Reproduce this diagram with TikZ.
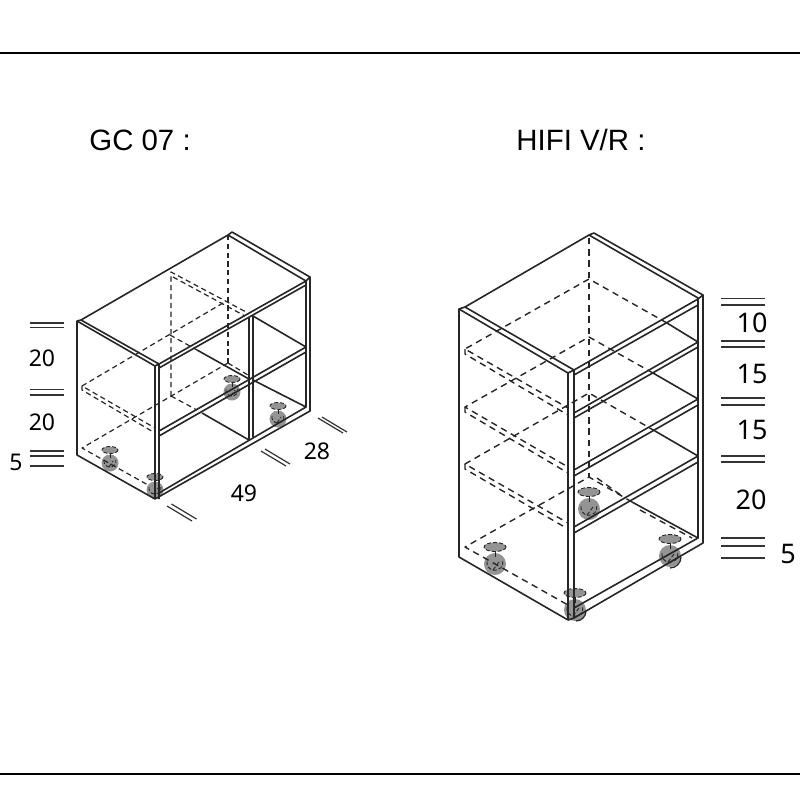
\documentclass[tikz,border=0pt]{standalone}
\usepackage{fontspec}
\setmainfont{Noto Sans}
\newfontfamily\titlefont{Liberation Sans}
\usepackage{tikz}

\begin{document}
\begin{tikzpicture}[x=0.5pt,y=-0.5pt,line join=round,
 solid line/.style={draw=black!85,line width=0.8pt},
 hidden line/.style={draw=black!85,line width=0.6pt,dash pattern=on 2.6pt off 1.8pt},
 hidden wide/.style={draw=black!85,line width=0.7pt,dash pattern=on 3.2pt off 2.4pt},
 foot line/.style={draw=black!85,line width=0.45pt,dash pattern=on 2pt off 1pt},
 rule line/.style={draw=black,line width=1pt},
 dim line/.style={draw=black!80,line width=0.6pt},
 foot/.style={fill=black!42,draw=none},
 size label/.style={font=\fontsize{11.5}{14}\selectfont,inner sep=0pt},
 big label/.style={font=\fontsize{13.5}{16}\selectfont,inner sep=0pt},
 title label/.style={font=\titlefont\fontsize{14.7}{18}\selectfont,inner sep=0pt,anchor=base west}]
  \useasboundingbox[fill=white] (0,0) rectangle (800,800);

  \path[rule line] (0,53) -- (800,53);
  \path[rule line] (0,774) -- (800,774);

  \node[title label] (title gc) at (89,150) {GC 07 :};
  \node[title label] (title hifi) at (516,150) {HIFI V/R :};

  % feet, left unit
  \foreach \x/\y in {110/450, 155/477, 232/379, 278/406} {
    \path[foot] (\x,\y+13) circle (8.5);
    \path[foot] (\x,\y) ellipse (8 and 3.5);
    \path[foot line] (\x,\y) ellipse (8 and 3.5);
    \path[solid line,line width=0.5pt] (\x,\y+3) -- (\x,\y+8);
    \path[foot line] (\x-6,\y+10) arc (190:-10:6);
    \path[foot line] (\x-1,\y+17) -- (\x+3,\y+11);
  }

  % feet, right unit
  \foreach \x/\y in {495/547, 575/593, 589/492, 670/539} {
    \path[foot] (\x,\y+17) circle (11);
    \path[foot] (\x,\y) ellipse (11 and 4.5);
    \path[foot line] (\x,\y) ellipse (11 and 4.5);
    \path[solid line,line width=0.5pt] (\x,\y+4) -- (\x,\y+10);
    \path[foot line] (\x-8,\y+14) arc (190:-10:8);
    \path[foot line] (\x-2,\y+23) -- (\x+4,\y+15);
  }
  \path[solid line,line width=0.6pt] (670,568) arc (90:0:11);
  \path[solid line,line width=0.6pt] (576,621) arc (90:0:10);

  % left unit, hidden
  \path[hidden line] (228,235) -- (228,363);
  \path[hidden line] (171,396) -- (171,272) -- (248,313);
  \path[hidden line] (173,277) -- (245,316);
  \path[hidden line] (223,303) -- (82,386) -- (155,428);
  \path[hidden line] (82,386) -- (82,390) -- (155,433);
  \path[hidden line] (170,335) -- (197,350);
  \path[hidden line] (228,363) -- (82,448) -- (148,485);
  \path[hidden line] (228,363) -- (248,375);
  \path[hidden line] (171,396) -- (197,410);

  % left unit, outline
  \path[solid line] (81,320) -- (228,235) -- (232,232) -- (310,277) -- (310,411) -- (155,499) -- (77,455) -- (77,321) -- (155,366) -- (155,499);
  \path[solid line] (81,320) -- (159,364) -- (159,499);
  \path[solid line] (228,235) -- (306,281) -- (306,407) -- (159,493);
  \path[solid line] (159,364) -- (306,281) -- (310,277);
  \path[solid line] (155,366) -- (159,364);
  \path[solid line] (77,321) -- (81,320);
  \path[solid line] (159,368) -- (306,285);
  \path[solid line] (159,431) -- (306,347);
  \path[solid line] (159,436) -- (306,352);
  \path[solid line] (249,318) -- (249,440);
  \path[solid line] (253,316) -- (253,437);
  \path[solid line] (253,316) -- (306,347);
  \path[solid line] (253,380) -- (306,407);
  \path[solid line] (197,350) -- (249,379);
  \path[solid line] (202,413) -- (249,440);

  % right unit, hidden
  \path[hidden wide] (589,238) -- (589,477);
  \path[hidden wide] (667,323) -- (589,279) -- (465,349) -- (568,408);
  \path[hidden wide] (465,349) -- (465,354) -- (568,415);
  \path[hidden wide] (653,373) -- (589,337) -- (465,407) -- (568,467);
  \path[hidden wide] (465,407) -- (465,412) -- (568,473);
  \path[hidden wide] (655,431) -- (589,393) -- (465,464) -- (568,523);
  \path[hidden wide] (465,464) -- (465,469) -- (568,529);
  \path[hidden wide] (632,502) -- (589,477) -- (465,547) -- (568,605);
  \path[hidden wide] (597,478) -- (625,498);
  \path[hidden wide] (640,510) -- (692,538);

  % right unit, outline
  \path[solid line] (465,307) -- (589,235) -- (594,233) -- (703,295) -- (703,543) -- (574,618) -- (568,620) -- (459,557) -- (459,309) -- (568,373) -- (568,620);
  \path[solid line] (465,307) -- (574,370) -- (574,618);
  \path[solid line] (589,235) -- (698,298) -- (698,538) -- (574,608);
  \path[solid line] (574,370) -- (698,299) -- (703,295);
  \path[solid line] (568,373) -- (574,370);
  \path[solid line] (459,309) -- (465,307);
  \path[solid line] (574,375) -- (698,305);
  \foreach \a/\b in {413/342, 418/347, 470/399, 476/405, 527/456, 533/462} {
    \path[solid line] (574,\a) -- (698,\b);
  }
  \path[solid line] (667,323) -- (698,342);
  \path[solid line] (653,373) -- (698,399);
  \path[solid line] (655,431) -- (698,456);
  \path[solid line] (632,502) -- (698,538);

  % level marks
  \foreach \y in {323, 327.5, 389.5, 395, 451, 456, 466} {
    \path[dim line] (30,\y) -- (64,\y);
  }
  \foreach \y in {298.5, 305, 341, 347, 398, 405, 456, 462, 538, 546, 558} {
    \path[dim line] (721,\y) -- (765,\y);
  }

  % depth and width marks
  \foreach \x/\y in {167/506, 171.5/504, 261/451, 265/449, 318/418, 322/417} {
    \path[dim line] (\x,\y) -- (\x+25,\y+15);
  }

  \node[size label] (gc a) at (42,358) {20};
  \node[size label] (gc b) at (42,422) {20};
  \node[size label] (gc c) at (16,462) {5};
  \node[size label] (gc depth) at (317,451) {28};
  \node[size label] (gc width) at (244,493) {49};
  \node[big label] (hifi a) at (752,323) {10};
  \node[big label] (hifi b) at (752,374) {15};
  \node[big label] (hifi c) at (752,430) {15};
  \node[big label] (hifi d) at (751,500) {20};
  \node[big label] (hifi e) at (788,554) {5};
\end{tikzpicture}
\end{document}
